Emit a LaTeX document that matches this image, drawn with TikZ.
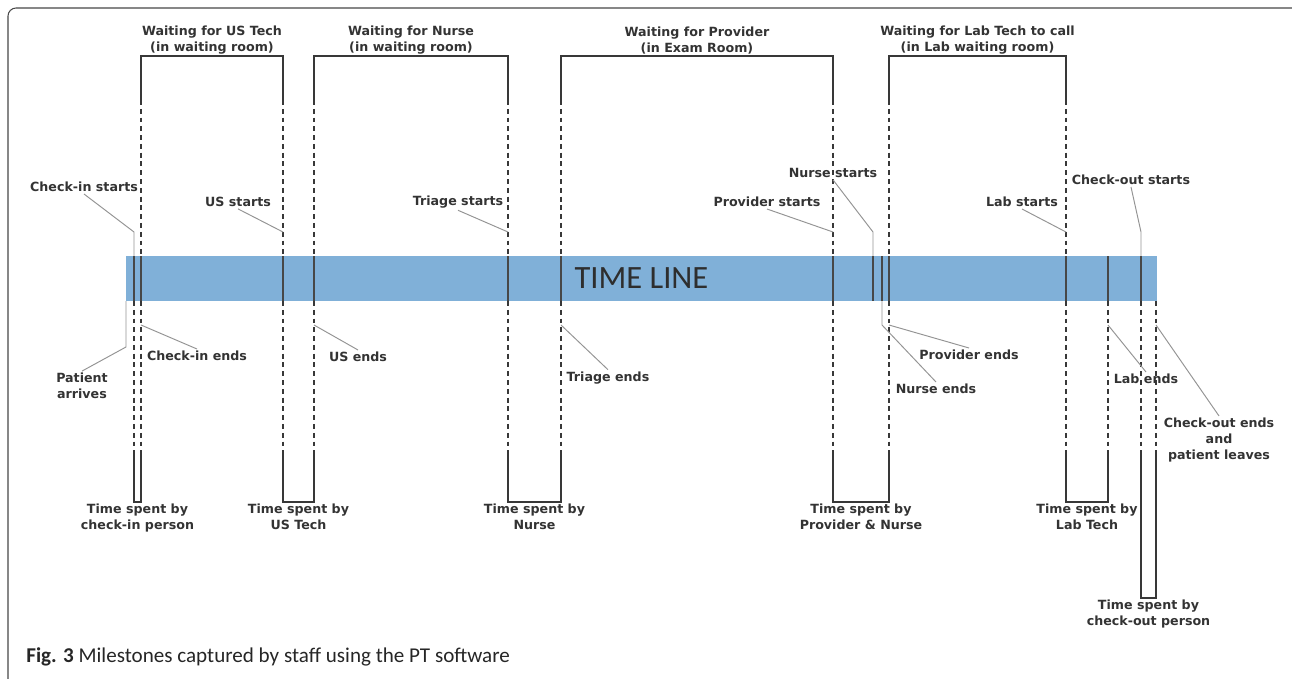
\documentclass[tikz,border=0pt]{standalone}
\usepackage{fontspec}
\usetikzlibrary{calc,positioning}

\newfontfamily\labelfont{DejaVu Sans}
\newfontfamily\captionfont{Carlito}
\definecolor{barblue}{RGB}{128,176,216}

\begin{document}
\begin{tikzpicture}[x=0.02cm, y=-0.02cm,
	frameline/.style={draw=black!72, line width=0.6pt, rounded corners=0.16cm},
	timebar/.style={fill=barblue, minimum width=20.62cm, minimum height=0.9cm,
		inner sep=0pt, font=\captionfont\fontsize{18.5}{20}\selectfont, text=black!82},
	solidline/.style={draw=black!78, line width=0.95pt},
	dashline/.style={solidline, dash pattern=on 2.8pt off 2.2pt},
	barline/.style={draw=black!72, line width=0.8pt},
	leader/.style={draw=black!42, line width=0.55pt},
	milestone/.style={font=\labelfont\bfseries\fontsize{7.2}{9}\selectfont,
		text=black!80, align=center, inner sep=1pt},
]

% frame %{{{1

	\useasboundingbox (0,0) rectangle (1292,679);
	\draw[frameline] (8,679) |- (1292,8);

% levels %{{{1

	\coordinate (top) at (0,56);
	\coordinate (sol) at (0,100);
	\coordinate (knee) at (0,232);
	\coordinate (bt) at (0,256);
	\coordinate (bb) at (0,301);
	\coordinate (lk) at (0,325);
	\coordinate (pk) at (0,347);
	\coordinate (dsh) at (0,455);
	\coordinate (bot) at (0,502);
	\coordinate (cob) at (0,598);

% milestones %{{{1

	\coordinate (arr) at (126,0);
	\coordinate (cis) at (134,0);
	\coordinate (cie) at (141,0);
	\coordinate (uss) at (283,0);
	\coordinate (use) at (314,0);
	\coordinate (trs) at (508,0);
	\coordinate (tre) at (561,0);
	\coordinate (prs) at (833,0);
	\coordinate (nus) at (873,0);
	\coordinate (nue) at (882,0);
	\coordinate (pre) at (889,0);
	\coordinate (las) at (1066,0);
	\coordinate (lae) at (1108,0);
	\coordinate (cos) at (1141,0);
	\coordinate (coe) at (1156,0);

% time line %{{{1

	\node[timebar] (bar) at (641.5,278.5) {TIME LINE};

% waiting boxes %{{{1

	\draw[solidline] (cie |- sol) -- (cie |- top) -- (uss |- top) -- (uss |- sol);
	\draw[solidline] (use |- sol) -- (use |- top) -- (trs |- top) -- (trs |- sol);
	\draw[solidline] (tre |- sol) -- (tre |- top) -- (prs |- top) -- (prs |- sol);
	\draw[solidline] (pre |- sol) -- (pre |- top) -- (las |- top) -- (las |- sol);

	\foreach \m in {cie,uss,use,trs,tre,prs,pre,las}
		\draw[dashline] (\m |- sol) -- (\m |- bt);

% lines across the bar %{{{1

	\foreach \m in {cis,cie,uss,use,trs,tre,prs,nus,nue,pre,las,lae,cos}
		\draw[barline] (\m |- bt) -- (\m |- bb);

% staff boxes %{{{1

	\foreach \m in {cis,cie,uss,use,trs,tre,prs,pre,las,lae,cos,coe}
		\draw[dashline] (\m |- bb) -- (\m |- dsh);

	\draw[solidline] (cis |- dsh) -- (cis |- bot) -- (cie |- bot) -- (cie |- dsh);
	\draw[solidline] (uss |- dsh) -- (uss |- bot) -- (use |- bot) -- (use |- dsh);
	\draw[solidline] (trs |- dsh) -- (trs |- bot) -- (tre |- bot) -- (tre |- dsh);
	\draw[solidline] (prs |- dsh) -- (prs |- bot) -- (pre |- bot) -- (pre |- dsh);
	\draw[solidline] (las |- dsh) -- (las |- bot) -- (lae |- bot) -- (lae |- dsh);
	\draw[solidline] (cos |- dsh) -- (cos |- cob) -- (coe |- cob) -- (coe |- dsh);

% waiting labels %{{{1

	\node[milestone, above=0pt] (w-us) at ($(cie |- top)!0.5!(uss |- top)$)
		{Waiting for US Tech\\(in waiting room)};
	\node[milestone, above=0pt] (w-nu) at ($(use |- top)!0.5!(trs |- top)$)
		{Waiting for Nurse\\(in waiting room)};
	\node[milestone, above=0pt] (w-pr) at ($(tre |- top)!0.5!(prs |- top)$)
		{Waiting for Provider\\(in Exam Room)};
	\node[milestone, above=0pt] (w-la) at ($(pre |- top)!0.5!(las |- top)$)
		{Waiting for Lab Tech to call\\(in Lab waiting room)};

% staff labels %{{{1

	\node[milestone, below=0pt] (t-ci) at ($(cis |- bot)!0.5!(cie |- bot)$)
		{Time spent by\\check-in person};
	\node[milestone, below=0pt] (t-us) at ($(uss |- bot)!0.5!(use |- bot)$)
		{Time spent by\\US Tech};
	\node[milestone, below=0pt] (t-nu) at ($(trs |- bot)!0.5!(tre |- bot)$)
		{Time spent by\\Nurse};
	\node[milestone, below=0pt] (t-pr) at ($(prs |- bot)!0.5!(pre |- bot)$)
		{Time spent by\\Provider \& Nurse};
	\node[milestone, below=0pt] (t-la) at ($(las |- bot)!0.5!(lae |- bot)$)
		{Time spent by\\Lab Tech};
	\node[milestone, below=0pt] (t-co) at ($(cos |- cob)!0.5!(coe |- cob)$)
		{Time spent by\\check-out person};

% milestone labels %{{{1

	\node[milestone] (l-cis) at (84,187) {Check-in starts};
	\node[milestone] (l-uss) at (238,202) {US starts};
	\node[milestone] (l-trs) at (458,202) {Triage starts};
	\node[milestone] (l-prs) at (767,202) {Provider starts};
	\node[milestone] (l-nus) at (833,173) {Nurse starts};
	\node[milestone] (l-las) at (1022,202) {Lab starts};
	\node[milestone] (l-cos) at (1131,180) {Check-out starts};

	\node[milestone] (l-arr) at (82,386) {Patient\\arrives};
	\node[milestone] (l-cie) at (197,356) {Check-in ends};
	\node[milestone] (l-use) at (358,357) {US ends};
	\node[milestone] (l-tre) at (608,378) {Triage ends};
	\node[milestone] (l-nue) at (936,389) {Nurse ends};
	\node[milestone] (l-pre) at (969,355) {Provider ends};
	\node[milestone] (l-lae) at (1146,379) {Lab ends};
	\node[milestone] (l-coe) at (1219,440) {Check-out ends\\and\\patient leaves};

% leaders %{{{1

	\draw[leader] (l-cis.south) -- (cis |- knee) -- (cis |- bt);
	\draw[leader] (l-uss.south) -- (uss |- knee);
	\draw[leader] (l-trs.south) -- (trs |- knee);
	\draw[leader] (l-prs.south) -- (prs |- knee);
	\draw[leader] (l-nus.south) -- (nus |- knee) -- (nus |- bt);
	\draw[leader] (l-las.south) -- (las |- knee);
	\draw[leader] (l-cos.south) -- (cos |- knee) -- (cos |- bt);

	\draw[leader] (arr |- bb) -- (arr |- pk) -- (l-arr.north);
	\draw[leader] (cie |- lk) -- (l-cie.north);
	\draw[leader] (use |- lk) -- (l-use.north);
	\draw[leader] (tre |- lk) -- (l-tre.north);
	\draw[leader] (nue |- bb) -- (nue |- lk) -- (l-nue.north);
	\draw[leader] (pre |- lk) -- (l-pre.north);
	\draw[leader] (lae |- lk) -- (l-lae.north);
	\draw[leader] (coe |- lk) -- (l-coe.north);

% caption %{{{1

	\node[anchor=west, inner sep=0pt, font=\captionfont\fontsize{12}{14}\selectfont,
		text=black!85] (cap) at (26,657)
		{\textbf{Fig. 3} Milestones captured by staff using the PT software};

% closing %{{{1

\end{tikzpicture}
\end{document}
